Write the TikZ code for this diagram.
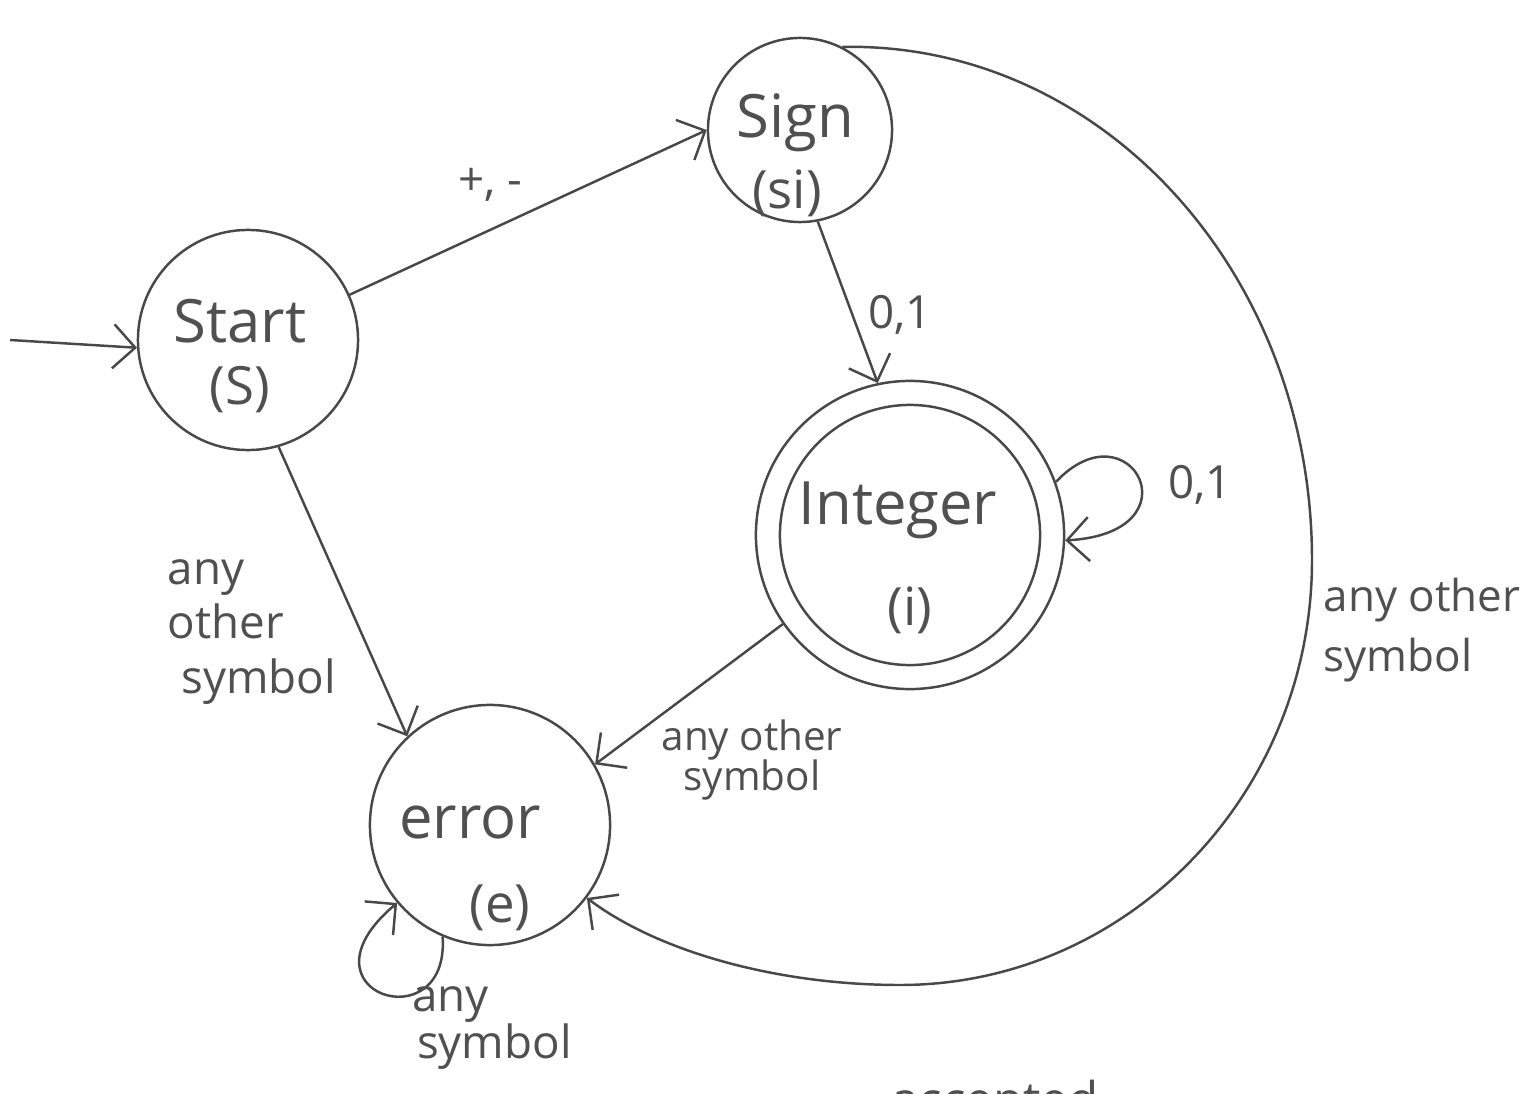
\documentclass[tikz,border=0pt]{standalone}
\usepackage{fontspec}
\setmainfont{Open Sans}
\usetikzlibrary{arrows.meta}
\definecolor{linec}{HTML}{484848}
\definecolor{txt}{HTML}{505050}
\begin{document}
\begin{tikzpicture}[x=0.01cm,y=0.01cm,
  ink/.style={draw=linec, line width=0.7pt},
  state/.style={circle, ink, inner sep=0pt},
  arr/.style={ink, -{Straight Barb[length=2.2mm,width=4.4mm]}},
  big/.style={text=txt, font=\fontsize{17}{20}\selectfont, inner sep=0pt},
  sub/.style={text=txt, font=\fontsize{15}{18}\selectfont, inner sep=0pt},
  lbl/.style={text=txt, font=\fontsize{13}{16}\selectfont, align=left, inner sep=0pt},
]
\useasboundingbox (0,0) rectangle (1536,1093);
\clip (0,0) rectangle (1536,1093);
\fill[white] (0,0) rectangle (1536,1093);

% states
\node[state, minimum size=2.2cm] (start) at (248,753) {};
\node[state, minimum size=1.84cm] (sign) at (800,963) {};
\node[state, minimum size=3.08cm] (integer) at (910,558) {};
\draw[ink] (integer.center) circle[radius=1.3cm];
\node[state, minimum size=2.4cm] (error) at (490,268) {};

% state texts
\node[big] (tStart) at (240,772) {Start};
\node[sub] (tS) at (240,703) {(S)};
\node[big] (tSign) at (795,970) {Sign};
\node[sub] (tsi) at (787,900) {(si)};
\node[big] (tInt) at (898,583) {Integer};
\node[sub] (ti) at (910,483) {(i)};
\node[big] (tErr) at (470,271) {error};
\node[sub] (te) at (500,185) {(e)};

% initial arrow
\coordinate (init) at (10,753);
\draw[arr] (init) -- (start.184);

% transitions
\draw[arr] (start.24) -- (sign.180);
\draw[arr] (sign.-79) -- (integer.102);
\draw[arr] (integer.20) .. controls (1130,690) and (1200,560) .. (integer.-2);
\draw[arr] (start.-74) -- (error.133);
\draw[arr] (integer.215) -- (error.30);
\coordinate (arcR) at (1312,533);
\coordinate (arcB) at (900,108);
\draw[arr] (sign.63) .. controls (1103,1051) and (1312,819) .. (arcR)
  .. controls (1312,298) and (1127,108) .. (arcB)
  .. controls (780,108) and (660,140) .. (error.-37);
\draw[arr] (error.-113) .. controls (450,50) and (290,100) .. (error.-140);

% labels
\node[lbl] (l1) at (490,908) {+, -};
\node[lbl] (l2) at (900,778) {0,1};
\node[lbl] (l3) at (1200,608) {0,1};
\node[lbl, font=\fontsize{13}{15.6}\selectfont] (l4) at (252,461) {any\\other\\\hspace*{0.3em}symbol};
\node[lbl, font=\fontsize{11.5}{11.5}\selectfont, align=center] (l5) at (752,333) {any other\\symbol};
\node[lbl, font=\fontsize{12.5}{17}\selectfont] (l6) at (1422,463) {any other\\symbol};
\node[lbl, font=\fontsize{13}{13.5}\selectfont] (l7) at (492,65) {any\\\hspace*{0.1em}symbol};
\node[lbl, font=\fontsize{14}{16}\selectfont] (l8) at (995,-12) {accepted};
\end{tikzpicture}
\end{document}
